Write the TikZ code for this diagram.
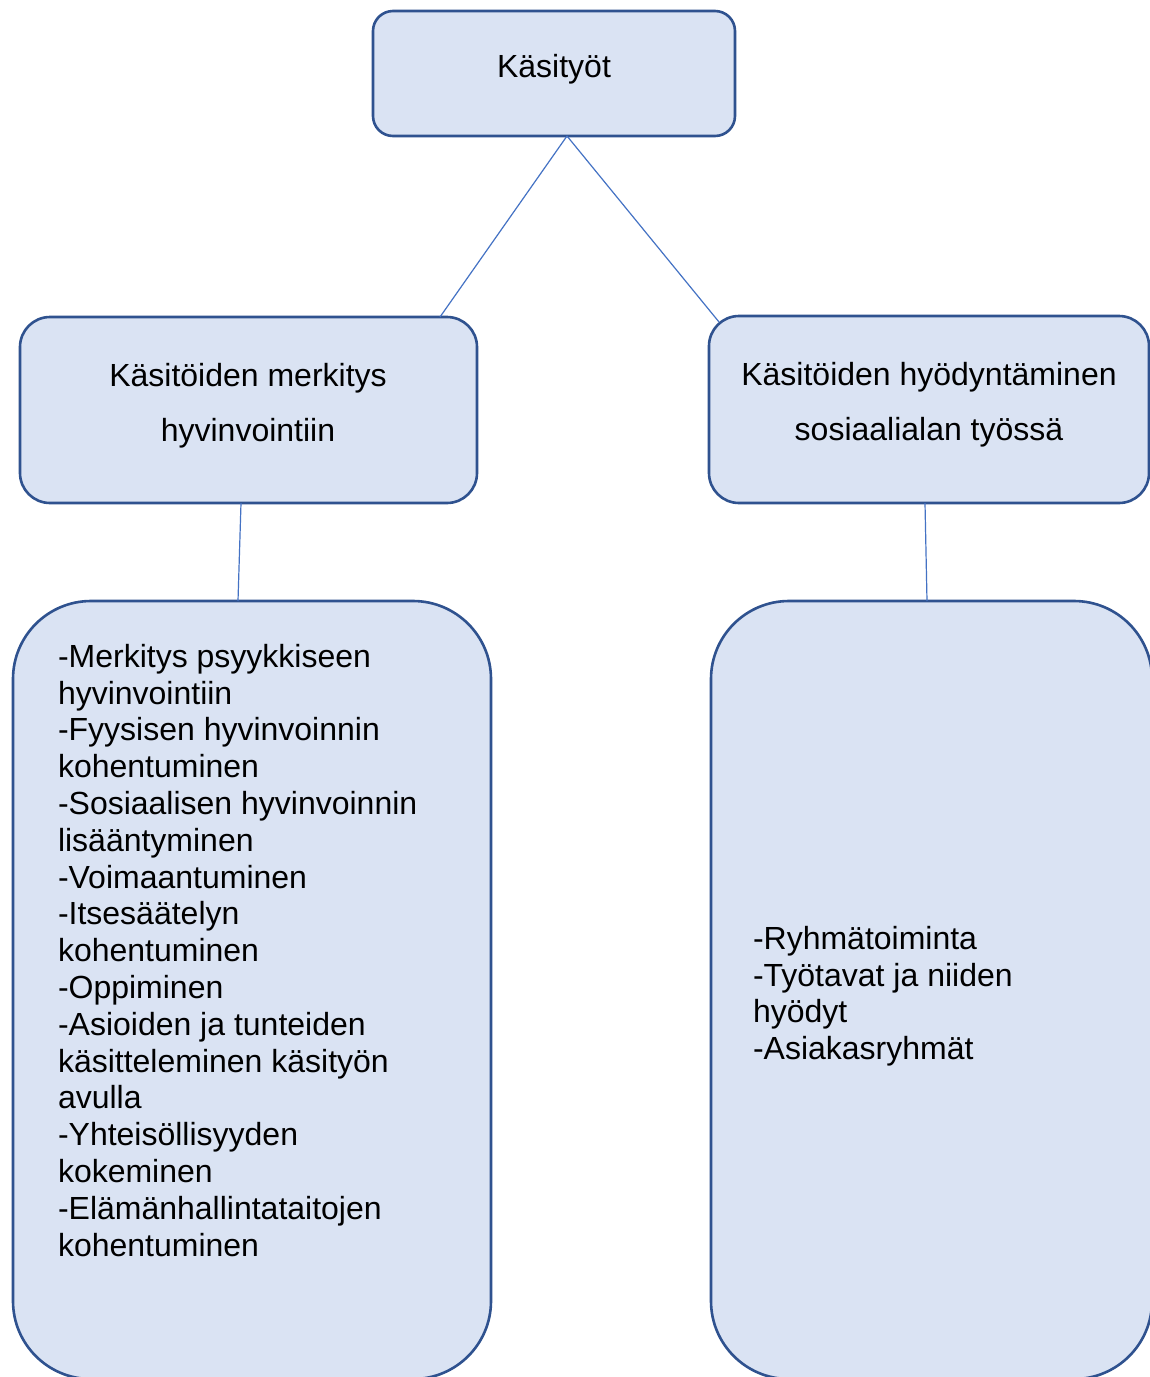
\documentclass[tikz,border=0pt]{standalone}
\usepackage{fontspec}
\setmainfont{Liberation Sans}
\usetikzlibrary{calc}
\definecolor{boxfill}{HTML}{DAE3F3}
\definecolor{boxline}{HTML}{2F528F}
\definecolor{connline}{HTML}{4472C4}
\tikzset{
  box/.style={draw=boxline, fill=boxfill, line width=2.6pt, rectangle, inner sep=0pt, outer sep=0pt, anchor=north west},
  conn/.style={draw=connline, line width=1.2pt},
  lbl/.style={inner sep=0pt, outer sep=0pt, font=\fontsize{32}{36.8}\selectfont, text=black},
  mlbl/.style={inner sep=0pt, outer sep=0pt, font=\fontsize{32}{55}\selectfont, text=black, align=center}
}
\begin{document}
\begin{tikzpicture}[x=1pt,y=-1pt]
\useasboundingbox (0,0) rectangle (1150,1377);
\clip (0,0) rectangle (1150,1377);
\fill[white] (0,0) rectangle (1150,1377);
% boxes
\node[box, rounded corners=20pt, minimum width=362pt, minimum height=125pt] (top) at (373,11) {};
\node[box, rounded corners=30pt, minimum width=457pt, minimum height=186pt] (mL) at (20,317) {};
\node[box, rounded corners=30pt, minimum width=440pt, minimum height=187pt] (mR) at (709,316) {};
\node[box, rounded corners=78pt, minimum width=478pt, minimum height=778pt] (bL) at (13,601) {};
\node[box, rounded corners=78pt, minimum width=441pt, minimum height=778pt] (bR) at (711,601) {};
% connectors
\draw[conn] ($(top.south)+(13,0)$) -- ($(mL.north)+(191.5,0)$);
\draw[conn] ($(top.south)+(13,0)$) -- ($(mR.north west)+(10,6)$);
\draw[conn] ($(mL.south)+(-7.5,0)$) -- ($(bL.north)+(-14,0)$);
\draw[conn] ($(mR.south)+(-4,0)$) -- ($(bR.north)+(-4.5,0)$);
% labels
\node[lbl, anchor=base] (tTop) at (554,77) {Käsityöt};
\node[mlbl, anchor=north] (tmL) at (248,363) {Käsitöiden merkitys\\hyvinvointiin};
\node[mlbl, anchor=north] (tmR) at (929,362) {Käsitöiden hyödyntäminen\\sosiaalialan työssä};
\node[lbl, align=left, anchor=north west] (tbL) at (58,644) {-Merkitys psyykkiseen\\hyvinvointiin\\-Fyysisen hyvinvoinnin\\kohentuminen\\-Sosiaalisen hyvinvoinnin\\lisääntyminen\\-Voimaantuminen\\-Itsesäätelyn\\kohentuminen\\-Oppiminen\\-Asioiden ja tunteiden\\käsitteleminen käsityön\\avulla\\-Yhteisöllisyyden\\kokeminen\\-Elämänhallintataitojen\\kohentuminen};
\node[lbl, align=left, anchor=north west] (tbR) at (753,926) {-Ryhmätoiminta\\-Työtavat ja niiden\\hyödyt\\-Asiakasryhmät};
\end{tikzpicture}
\end{document}
